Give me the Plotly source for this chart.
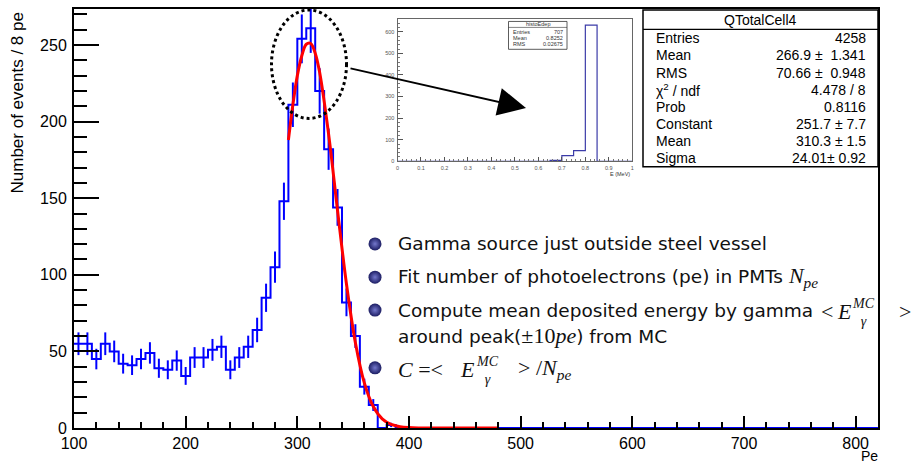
import math
import plotly.graph_objects as go

# ---------------- data ----------------
bin_low_edge = 100
bin_width = 8
counts = [55, 55, 45, 55, 50, 42, 41, 45, 49, 39,
          38, 44, 34, 46, 46, 51, 53, 38, 46, 53,
          64, 85, 105, 148, 211, 254, 261, 220, 182, 144,
          82, 60, 27, 15, 0, 2] + [0] * 54

fit_x = [292, 296, 300, 304, 308, 312, 316, 320, 328, 336, 344, 352, 360, 368, 376, 384, 392, 400, 410, 420, 440, 480]
fit_y = [188, 211, 230, 243, 250.5, 251, 244.6, 232, 191.8, 142, 94, 55.7, 29.5, 14.0, 6.0, 2.3, 0.8, 0.25, 0.05, 0, 0, 0]

inset_x = [0.0, 0.65, 0.70, 0.75, 0.80, 0.85, 1.0]
inset_y = [0, 4, 26, 49, 631, 0, 0]

stats_title = "QTotalCell4"
stats_labels = ["Entries", "Mean", "RMS", "χ<sup>2</sup> / ndf", "Prob", "Constant", "Mean", "Sigma"]
stats_values = ["4258", "266.9 ±  1.341", "70.66 ±  0.948", "4.478 / 8", "0.8116", "251.7 ± 7.7", "310.3 ± 1.5", "24.01± 0.92"]

inset_stats_title = "histoEdep"
inset_stats_labels = ["Entries", "Mean", "RMS"]
inset_stats_values = ["707", "0.8252", "0.02675"]

y_ticks = [0, 50, 100, 150, 200, 250]
x_ticks = [100, 200, 300, 400, 500, 600, 700, 800]

# ---------------- layout helpers ----------------
W, H = 919, 465
L, R, T, B = 74, 878, 7, 428


def px(x):
    return (x - L) / (R - L)


def py(y):
    return (B - y) / (B - T)


edges = [bin_low_edge + i * bin_width for i in range(len(counts) + 1)]
centers = [bin_low_edge + (i + 0.5) * bin_width for i in range(len(counts))]

fig = go.Figure()

# histogram outline
fig.add_trace(go.Scatter(
    x=edges, y=counts + [counts[-1]], mode="lines", line_shape="hv",
    line=dict(color="#0000ff", width=2), hoverinfo="skip", showlegend=False, cliponaxis=True))

# error bars
ex = [c for c, n in zip(centers, counts) if n > 0]
ey = [n for n in counts if n > 0]
ee = [math.sqrt(n) for n in counts if n > 0]
fig.add_trace(go.Scatter(
    x=ex, y=ey, mode="markers", marker=dict(size=1, color="rgba(0,0,255,0)", line=dict(width=0)),
    error_y=dict(type="data", array=ee, visible=True, color="#0000ff", thickness=2, width=0),
    hoverinfo="skip", showlegend=False))

# fit
fig.add_trace(go.Scatter(
    x=fit_x, y=fit_y, mode="lines", line_shape="spline",
    line=dict(color="#ff0000", width=3), hoverinfo="skip", showlegend=False))

# inset histogram
fig.add_trace(go.Scatter(
    x=inset_x, y=inset_y, mode="lines", line_shape="hv", xaxis="x2", yaxis="y2",
    line=dict(color="#3b3ba8", width=1.2), hoverinfo="skip", showlegend=False))

# bullets on pixel overlay axes
bullet_y = [243, 276.5, 309.5, 367.5]
fig.add_trace(go.Scatter(
    x=[375] * 4, y=bullet_y, mode="markers", xaxis="x3", yaxis="y3",
    marker=dict(size=13, color="#1c1d63", gradient=dict(type="radial", color="#7478cc"),
                line=dict(width=0)),
    hoverinfo="skip", showlegend=False))

axis_font = dict(family="Liberation Sans, Arial, sans-serif", size=16, color="black")

fig.update_layout(
    width=W, height=H,
    margin=dict(l=L, r=W - R, t=T, b=H - B),
    paper_bgcolor="white", plot_bgcolor="white",
    showlegend=False,
    xaxis=dict(range=[100, 820], tickvals=x_ticks, ticks="inside", ticklen=12, tickwidth=1.5,
               tickcolor="black", showline=True, linecolor="black", linewidth=2, mirror=True,
               showgrid=False, zeroline=False, tickfont=axis_font,
               minor=dict(dtick=20, ticks="inside", ticklen=6, tickwidth=1.5, tickcolor="black", showgrid=False)),
    yaxis=dict(range=[0, 273.5], tickvals=y_ticks, ticks="inside", ticklen=25, tickwidth=1.5,
               tickcolor="black", showline=True, linecolor="black", linewidth=2, mirror=True,
               showgrid=False, zeroline=False, tickfont=axis_font, ticklabelstandoff=2,
               minor=dict(dtick=10, ticks="inside", ticklen=13, tickwidth=1.5, tickcolor="black", showgrid=False)),
    xaxis2=dict(domain=[px(397.5), px(632.3)], anchor="y2", range=[0, 1],
                tickvals=[0, 0.1, 0.2, 0.3, 0.4, 0.5, 0.6, 0.7, 0.8, 0.9, 1],
                ticktext=["0", "0.1", "0.2", "0.3", "0.4", "0.5", "0.6", "0.7", "0.8", "0.9", "1"],
                ticks="inside", ticklen=4, tickwidth=1, tickcolor="#555",
                showline=True, linecolor="#666", linewidth=1, mirror=True, showgrid=False, zeroline=False,
                tickfont=dict(family="Liberation Sans, Arial", size=5.5, color="#555"), ticklabelstandoff=1,
                minor=dict(dtick=0.02, ticks="inside", ticklen=2, tickwidth=1, tickcolor="#777", showgrid=False)),
    yaxis2=dict(domain=[py(160), py(16.7)], anchor="x2", range=[0, 661],
                tickvals=[0, 100, 200, 300, 400, 500, 600],
                ticks="inside", ticklen=5, tickwidth=1, tickcolor="#555",
                showline=True, linecolor="#666", linewidth=1, mirror=True, showgrid=False, zeroline=False,
                tickfont=dict(family="Liberation Sans, Arial", size=5.5, color="#555"), ticklabelstandoff=1,
                minor=dict(dtick=20, ticks="inside", ticklen=2.5, tickwidth=1, tickcolor="#777", showgrid=False)),
    xaxis3=dict(overlaying="x", range=[L, R], visible=False),
    yaxis3=dict(overlaying="y", range=[B, T], visible=False),
)

shapes = []
annotations = []


def note(x, y, text, font, xanchor="left", yanchor="middle", **kw):
    annotations.append(dict(xref="paper", yref="paper", x=px(x), y=py(y), text=text,
                            showarrow=False, xanchor=xanchor, yanchor=yanchor, font=font, **kw))


# dotted ellipse
shapes.append(dict(type="circle", xref="paper", yref="paper",
                   x0=px(271.5), x1=px(346.5), y0=py(117), y1=py(8),
                   line=dict(color="black", width=3, dash="dot")))

# arrow
annotations.append(dict(xref="paper", yref="paper", x=px(526), y=py(106.5), ax=-177, ay=-40,
                        text="", showarrow=True, arrowhead=2, arrowsize=2.8, arrowwidth=2,
                        arrowcolor="black"))

# main stats box
sb_x0, sb_x1, sb_y0, sb_y1 = 643, 878, 8, 165.5
shapes.append(dict(type="rect", xref="paper", yref="paper", x0=px(sb_x0), x1=px(sb_x1),
                   y0=py(sb_y1), y1=py(sb_y0), fillcolor="white", line=dict(color="black", width=1.5)))
shapes.append(dict(type="line", xref="paper", yref="paper", x0=px(sb_x0), x1=px(sb_x1),
                   y0=py(27.5), y1=py(27.5), line=dict(color="black", width=1.2)))
stats_font = dict(family="Liberation Sans, Arial, sans-serif", size=14, color="black")
note(760.5, 18.5, stats_title, stats_font, xanchor="center")
row_y = [36, 53.5, 71, 88, 105, 122.5, 140, 157]
for lab, val, yy in zip(stats_labels, stats_values, row_y):
    note(654, yy, lab, stats_font)
    note(868, yy, val, stats_font, xanchor="right")

# inset stats box
ib_x0, ib_x1, ib_y0, ib_y1 = 508.5, 567, 19.5, 47.5
shapes.append(dict(type="rect", xref="paper", yref="paper", x0=px(ib_x0), x1=px(ib_x1),
                   y0=py(ib_y1), y1=py(ib_y0), fillcolor="white", line=dict(color="#333", width=0.8)))
shapes.append(dict(type="line", xref="paper", yref="paper", x0=px(ib_x0), x1=px(ib_x1),
                   y0=py(25.5), y1=py(25.5), line=dict(color="#333", width=0.6)))
small_font = dict(family="Liberation Sans, Arial, sans-serif", size=5.5, color="#333")
note(537.7, 22.5, inset_stats_title, small_font, xanchor="center")
for lab, val, yy in zip(inset_stats_labels, inset_stats_values, [30, 36.2, 42.5]):
    note(511, yy, lab, small_font)
    note(565, yy, val, small_font, xanchor="right")
note(632, 172.5, "E (MeV)", small_font, xanchor="right")

# axis titles
note(17, 9, "Number of events / 8 pe", dict(family="Liberation Sans, Arial, sans-serif", size=17, color="black"),
     xanchor="center", yanchor="top", textangle=-90)
note(879, 465, "Pe", dict(family="Liberation Sans, Arial, sans-serif", size=14, color="black"),
     xanchor="right", yanchor="bottom", borderpad=0)

# bullet text
tf = dict(family="DejaVu Sans, sans-serif", size=18.5, color="#111")
mf = dict(family="Liberation Serif, Times New Roman, serif", size=22, color="#111")
sf = dict(family="Liberation Serif, Times New Roman, serif", size=14, color="#111")
M = "font-family:'Liberation Serif', serif;font-size:22px"

note(396, 243, "Gamma source just outside steel vessel", tf)
note(396, 276.5, f"Fit number of photoelectrons (pe) in PMTs <span style=\"{M}\"><i>N</i><sub><i>pe</i></sub></span>", tf)
note(396, 309.5, "Compute mean deposited energy by gamma", tf)
note(396, 335, f"around peak(<span style=\"{M}\">±10<i>pe</i></span>) from MC", tf)

# math pieces of line 3:  < E_gamma^MC >
note(819, 311, "&lt;", mf)
note(835, 311, "<i>E</i>", mf)
note(850, 312, "<i>MC</i><br><i>γ</i>", sf, yanchor="middle")
note(897, 311, "&gt;", mf)

# math line 5:  C =< E_gamma^MC > /N_pe
note(396, 369, "<i>C</i> =&lt;", mf)
note(458, 369, "<i>E</i>", mf)
note(474, 370, "<i>MC</i><br><i>γ</i>", sf, yanchor="middle")
note(516, 369, "&gt; /<i>N</i><sub><i>pe</i></sub>", mf)

fig.update_layout(shapes=shapes, annotations=annotations)
fig.write_html("out.html", config={"displayModeBar": False},
               post_script="document.body.style.margin='0px';")
